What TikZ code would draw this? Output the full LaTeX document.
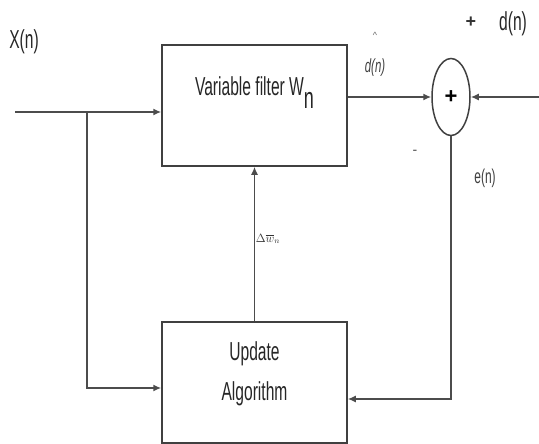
\documentclass[tikz,border=0pt]{standalone}
\usepackage{fontspec}
\usepackage{amsmath}
\setmainfont{Liberation Sans}
\newfontfamily\diagfont[FakeStretch=0.6]{Liberation Sans}
\usetikzlibrary{shapes.geometric, arrows.meta, positioning, calc}
\tikzset{
    block/.style={rectangle, draw=black!75, line width=1.5pt, inner sep=0pt},
    sumnode/.style={ellipse, draw=black!75, line width=1.5pt, inner sep=0pt, minimum width=38pt, minimum height=77pt},
    txt/.style={text=black!85, font=\diagfont\fontsize{26}{40}\selectfont, inner sep=0pt},
    smalltxt/.style={text=black!75, font=\diagfont\fontsize{20}{24}\selectfont, inner sep=0pt},
    arrow/.style={-{Latex[length=8pt,width=7pt]}, line width=1.5pt, draw=black!70}
}

\begin{document}
\begin{tikzpicture}[x=1pt, y=1pt]
			\useasboundingbox (0,0) rectangle (539,-444);
			\node (filter) [block, minimum width=185pt, minimum height=121pt] at (254.5,-105.5) {};
			\node (upd) [block, minimum width=185pt, minimum height=121pt] at (254.5,-382.5) {};
			\node (sum) [sumnode] at (451,-97) {\bfseries\fontsize{22}{22}\selectfont +};
			\node (filtertxt) [txt] at ([yshift=13pt]filter.center) {Variable filter W\raisebox{-13pt}{\fontsize{30}{30}\selectfont n}};
			\node (updtxt) [txt, align=center] at ([yshift=9pt]upd.center) {Update\\Algorithm};

			% labels
			\node (xn) [txt] at (24,-42) {X(n)};
			\node (dn) [txt] at (513,-24) {d(n)};
			\node (plus) [text=black!80, font=\bfseries\fontsize{18}{18}\selectfont] at (471,-22) {+};
			\node (minus) [text=black!70, font=\fontsize{14}{14}\selectfont] at (415,-152) {-};
			\node (en) [smalltxt] at (485,-178) {e(n)};
			\node (dhat) [text=black!60, font=\fontsize{9}{9}\selectfont] at (375,-35) {\^{}};
			\node (dest) [smalltxt, font=\diagfont\itshape\fontsize{19}{22}\selectfont] at (375,-68) {d(n)};
			\node (dw) [text=black!80, font=\fontsize{12}{12}\selectfont] at (268,-239) {$\Delta\overline{w}_{n}$};

			% connectors
			\coordinate (xin) at (15,-112);
			\coordinate (br) at (87,-112);
			\coordinate (dref) at (539,-97);
			\coordinate (fb) at (451,-399);
			\draw [arrow] (xin) -- (xin -| filter.west);
			\draw [arrow] (br) |- ($(upd.west)+(0,-5.5)$);
			\draw [arrow] (upd) -- (filter);
			\draw [arrow] (sum.west -| filter.east) -- (sum.west);
			\draw [arrow] (dref) -- (sum.east);
			\draw [arrow] (sum.south) -- (fb) -- (fb -| upd.east);
		\end{tikzpicture}
\end{document}
